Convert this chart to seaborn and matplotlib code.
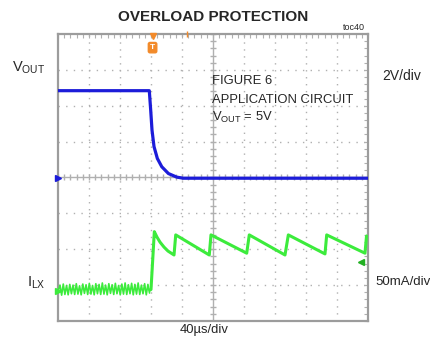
import numpy as np
import matplotlib
matplotlib.use("Agg")
import matplotlib.pyplot as plt
import seaborn as sns

sns.set_style("white")
plt.rcParams['font.family'] = ['Liberation Sans', 'DejaVu Sans']
plt.rcParams['mathtext.default'] = 'regular'

# time axis: microseconds (40us/div, 10 div); vertical axis: divisions (8 div)
vout_t = [0.0, 117.8, 119.6, 121.3, 123.9, 128.2, 133.9, 142.5, 153.3, 161.7, 400.0]
vout_y = [6.42, 6.42, 5.88, 5.32, 4.86, 4.53, 4.30, 4.11, 4.01, 3.98, 3.98]

ilx_ripple_t = [0.5, 2.6, 4.7, 6.8, 8.9, 11.0, 13.1, 15.2, 17.3, 19.4, 21.5, 23.6,
                25.7, 27.8, 29.9, 32.0, 34.1, 36.2, 38.3, 40.4, 42.5, 44.6, 46.7,
                48.8, 50.9, 53.0, 55.1, 57.2, 59.3, 61.4, 63.5, 65.6, 67.7, 69.8,
                71.9, 74.0, 76.1, 78.2, 80.3, 82.4, 84.5, 86.6, 88.7, 90.8, 92.9,
                95.0, 97.1, 99.2, 101.3, 103.4, 105.5, 107.6, 109.7, 111.8, 113.9,
                116.0, 118.1]
ilx_ripple_y = [0.86, 1.00, 0.72, 1.03, 0.74, 0.99, 0.73, 1.02, 0.76, 1.00, 0.74,
                1.04, 0.75, 0.98, 0.73, 1.03, 0.77, 1.01, 0.74, 1.05, 0.75, 0.99,
                0.73, 1.04, 0.76, 1.02, 0.74, 1.06, 0.75, 1.00, 0.73, 1.04, 0.77,
                1.01, 0.74, 1.05, 0.76, 0.99, 0.73, 1.03, 0.75, 1.06, 0.74, 1.01,
                0.76, 1.05, 0.73, 1.02, 0.75, 1.06, 0.74, 1.00, 0.76, 1.04, 0.73,
                1.02, 0.78]
ilx_t = [118.7, 120.0, 124.3, 127.7, 131.6, 136.8, 141.9, 149.7, 151.9, 195.2, 197.4,
         243.5, 246.8, 292.9, 297.2, 344.5, 346.7, 396.1, 398.1]
ilx_y = [0.86, 0.88, 2.49, 2.34, 2.20, 2.06, 1.95, 1.84, 2.40, 1.84, 2.40,
         1.89, 2.40, 1.84, 2.40, 1.87, 2.40, 1.89, 2.37]

blue = '#1c1cd9'
green = '#3ceb3c'
orange = '#f28a2a'
gridc = '#b0b0b0'

fig = plt.figure(figsize=(4.31, 3.41), dpi=100)
ax = fig.add_axes([58 / 431, 20 / 341, 310 / 431, 287 / 341])
ax.set_xlim(0, 400)
ax.set_ylim(0, 8)

# scope graticule
for x in range(40, 400, 40):
    if x != 200:
        ax.axvline(x, color=gridc, lw=1, ls=(0, (1, 4)), zorder=1)
for y in range(1, 8):
    if y != 4:
        ax.axhline(y, color=gridc, lw=1, ls=(0, (1, 4.5)), zorder=1)
ax.axvline(200, color=gridc, lw=1, zorder=1)
ax.axhline(4, color=gridc, lw=1, zorder=1)
minor_x = np.arange(0, 401, 8)
minor_y = np.arange(0, 8.01, 0.2)
ax.plot(minor_x, [4] * len(minor_x), ls='', marker='|', ms=5, mew=1, color=gridc, zorder=1)
ax.plot([200] * len(minor_y), minor_y, ls='', marker='_', ms=5, mew=1, color=gridc, zorder=1)

ax.set_xticks(minor_x)
ax.set_yticks(minor_y)
ax.tick_params(direction='in', length=3, width=0.8, color=gridc,
               top=True, right=True, labelbottom=False, labelleft=False)
for s in ax.spines.values():
    s.set_color('#9c9c9c')
    s.set_linewidth(1.6)

# traces
sns.lineplot(x=vout_t, y=vout_y, ax=ax, color=blue, lw=2.3, sort=False, estimator=None, zorder=3)
sns.lineplot(x=ilx_ripple_t, y=ilx_ripple_y, ax=ax, color=green, lw=1.2, sort=False, estimator=None, zorder=3)
sns.lineplot(x=ilx_t, y=ilx_y, ax=ax, color=green, lw=2.2, sort=False, estimator=None, zorder=3)

# channel / trigger markers
ax.plot([0], [3.98], marker='>', ms=4, color=blue, clip_on=False, zorder=4)
ax.plot([0], [0.84], marker='>', ms=4, color=green, clip_on=False, zorder=4)
ax.plot([391], [1.65], marker='<', ms=5, color='#22b022', zorder=4)
ax.plot([122], [7.95], marker='v', ms=5, color=orange, clip_on=False, zorder=4)
ax.plot([167], [8.0], marker='|', ms=4, color=orange, clip_on=False, zorder=4)
ax.text(122, 7.62, 'T', color='white', fontsize=6, fontweight='bold', ha='center', va='center',
        bbox=dict(boxstyle='round,pad=0.2', fc=orange, ec=orange), zorder=5)
ax.set_xlabel('')
ax.set_ylabel('')

# labels
def ftext(x, y, s, **kw):
    fig.text(x / 431, 1 - y / 341, s, **kw)

ftext(213, 17, 'OVERLOAD PROTECTION', fontsize=11, fontweight='bold', ha='center', va='center')
ftext(365, 28, 'toc40', fontsize=6.5, ha='right', va='center')
ftext(12, 68, 'V$_{OUT}$', fontsize=10.5, ha='left', va='center')
ftext(382, 76, '2V/div', fontsize=10, ha='left', va='center')
ftext(212, 81, 'FIGURE 6', fontsize=9.4, ha='left', va='center')
ftext(212, 100, 'APPLICATION CIRCUIT', fontsize=9.4, ha='left', va='center')
ftext(212, 117, 'V$_{OUT}$ = 5V', fontsize=9.4, ha='left', va='center')
ftext(27, 283, 'I$_{LX}$', fontsize=10.5, ha='left', va='center')
ftext(375, 282, '50mA/div', fontsize=9.5, ha='left', va='center')
ftext(204, 330, '40\u00b5s/div', fontsize=9.4, ha='center', va='center')

fig.savefig('out.png', dpi=100)
